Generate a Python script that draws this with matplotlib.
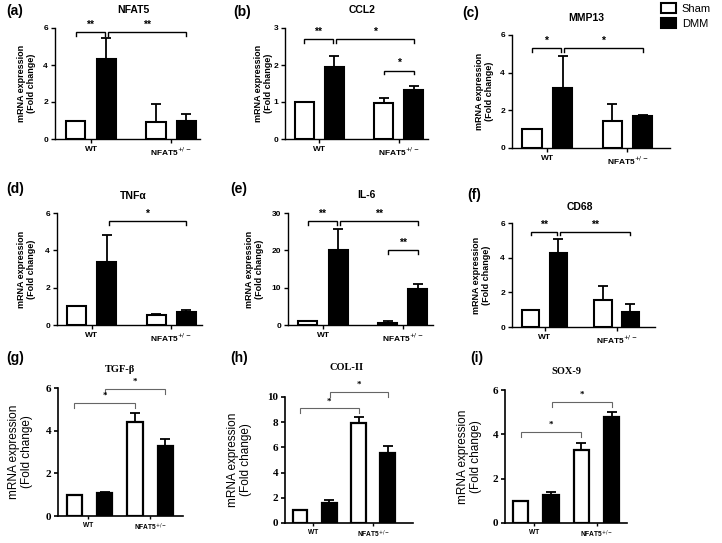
import matplotlib.pyplot as plt
from matplotlib.patches import Patch

W, H = 722, 543

groups = ["WT", "NFAT5$^{+/-}$"]

# mean fold change (WT, NFAT5+/-) and upper error
nfat5_sham, nfat5_dmm = [1.0, 0.9], [4.3, 0.95]
nfat5_sham_err, nfat5_dmm_err = [0.0, 1.0], [1.15, 0.4]

ccl2_sham, ccl2_dmm = [1.0, 0.98], [1.95, 1.33]
ccl2_sham_err, ccl2_dmm_err = [0.0, 0.13], [0.3, 0.1]

mmp13_sham, mmp13_dmm = [1.0, 1.45], [3.2, 1.7]
mmp13_sham_err, mmp13_dmm_err = [0.0, 0.9], [1.7, 0.05]

tnfa_sham, tnfa_dmm = [1.0, 0.55], [3.4, 0.7]
tnfa_sham_err, tnfa_dmm_err = [0.0, 0.05], [1.4, 0.08]

il6_sham, il6_dmm = [1.0, 0.6], [20.0, 9.7]
il6_sham_err, il6_dmm_err = [0.0, 0.4], [5.8, 1.4]

cd68_sham, cd68_dmm = [1.0, 1.55], [4.25, 0.85]
cd68_sham_err, cd68_dmm_err = [0.0, 0.8], [0.8, 0.48]

tgfb_sham, tgfb_dmm = [1.0, 4.42], [1.08, 3.3]
tgfb_sham_err, tgfb_dmm_err = [0.0, 0.42], [0.05, 0.3]

col2_sham, col2_dmm = [1.0, 7.95], [1.6, 5.55]
col2_sham_err, col2_dmm_err = [0.0, 0.5], [0.2, 0.6]

sox9_sham, sox9_dmm = [1.0, 3.3], [1.28, 4.78]
sox9_sham_err, sox9_dmm_err = [0.0, 0.3], [0.12, 0.22]

# significance brackets: (bar i, bar j, height, label); bars 0=Sham WT 1=DMM WT 2=Sham KO 3=DMM KO
nfat5_sig = [(0, 1, 5.8, "**"), (1, 3, 5.8, "**")]
ccl2_sig = [(0, 1, 2.7, "**"), (1, 3, 2.7, "*"), (2, 3, 1.85, "*")]
mmp13_sig = [(0, 1, 5.3, "*"), (1, 3, 5.3, "*")]
tnfa_sig = [(1, 3, 5.57, "*")]
il6_sig = [(0, 1, 27.9, "**"), (1, 3, 27.9, "**"), (2, 3, 20.1, "**")]
cd68_sig = [(0, 1, 5.5, "**"), (1, 3, 5.5, "**")]
tgfb_sig = [(0, 2, 5.3, "*"), (1, 3, 5.95, "*")]
col2_sig = [(0, 2, 9.1, "*"), (1, 3, 10.4, "*")]
sox9_sig = [(0, 2, 4.12, "*"), (1, 3, 5.46, "*")]

SANS = "Liberation Sans"
SERIF = "Liberation Serif"


def px_axes(fig, left, right, top, bottom):
    return fig.add_axes([left / W, 1 - bottom / H, (right - left) / W, (bottom - top) / H])


def brackets(ax, xs, sig, drop, color, lw, fs, family):
    for i, j, y, lab in sig:
        x1, x2 = xs[i], xs[j]
        if i == 1 and j == 3:
            x1 += 0.02
        elif j == 1:
            x2 -= 0.02
        ax.plot([x1, x1, x2, x2], [y - drop, y, y, y - drop], color=color, lw=lw,
                clip_on=False, solid_joinstyle="miter")
        ax.text((x1 + x2) / 2, y + drop * 0.6, lab, ha="center", va="bottom",
                fontsize=fs, fontweight="bold", family=family)


def top_panel(fig, rect, xlim, sham, dmm, sham_err, dmm_err, ymax, yticks, sig,
              title, title_xy, label, label_xy, ylabel_x):
    ax = px_axes(fig, *rect)
    off, w = 0.19, 0.24
    xs = [0 - off, 0 + off, 1 - off, 1 + off]
    vals = [sham[0], dmm[0], sham[1], dmm[1]]
    errs = [sham_err[0], dmm_err[0], sham_err[1], dmm_err[1]]
    colors = ["white", "black", "white", "black"]
    ax.errorbar(xs, vals, yerr=[[0] * 4, errs], fmt="none", ecolor="black",
                elinewidth=1.3, capsize=3.5, capthick=1.3, zorder=1)
    ax.bar(xs, vals, width=w, color=colors, edgecolor="black", linewidth=1.5, zorder=2)
    ax.set_xlim(*xlim)
    ax.set_ylim(0, ymax)
    ax.set_yticks(yticks)
    ax.set_xticks([0, 1])
    ax.set_xticklabels(groups)
    for s in ["top", "right"]:
        ax.spines[s].set_visible(False)
    for s in ["left", "bottom"]:
        ax.spines[s].set_linewidth(1.0)
    ax.tick_params(length=3, width=1.0, pad=2)
    for t in ax.get_xticklabels() + ax.get_yticklabels():
        t.set_fontsize(6)
        t.set_fontweight("bold")
        t.set_family(SANS)
    ax.set_ylabel("mRNA expression\n(Fold change)", fontsize=6.5, fontweight="bold",
                  family=SANS, linespacing=1.1)
    l, r = rect[0], rect[1]
    ax.yaxis.set_label_coords((ylabel_x - l) / (r - l), 0.5)
    brackets(ax, xs, sig, ymax * 0.035, "black", 1.0, 7.5, SANS)
    fig.text(title_xy[0] / W, 1 - title_xy[1] / H, title, ha="center", va="center",
             fontsize=7.5, fontweight="bold", family=SANS)
    fig.text(label_xy[0] / W, 1 - label_xy[1] / H, label, ha="left", va="center",
             fontsize=10, fontweight="bold", family=SANS)
    return ax


def bottom_panel(fig, rect, xlim, sham, dmm, sham_err, dmm_err, ymax, yticks, sig,
                 title, title_xy, label, label_xy, ylabel_x):
    ax = px_axes(fig, *rect)
    xs = [0, 1, 2, 3]
    vals = [sham[0], dmm[0], sham[1], dmm[1]]
    errs = [sham_err[0], dmm_err[0], sham_err[1], dmm_err[1]]
    colors = ["white", "black", "white", "black"]
    ax.errorbar(xs, vals, yerr=[[0] * 4, errs], fmt="none", ecolor="black",
                elinewidth=1.3, capsize=3.5, capthick=1.3, zorder=1)
    ax.bar(xs, vals, width=0.5, color=colors, edgecolor="black", linewidth=1.6, zorder=2)
    ax.set_xlim(*xlim)
    ax.set_ylim(0, ymax)
    ax.set_yticks(yticks)
    ax.set_xticks([0.45, 2.5])
    ax.set_xticklabels(groups)
    for s in ["top", "right"]:
        ax.spines[s].set_visible(False)
    for s in ["left", "bottom"]:
        ax.spines[s].set_linewidth(1.2)
    ax.tick_params(axis="y", length=3, width=1.2, pad=2)
    ax.tick_params(axis="x", length=2, width=1.0, pad=2)
    for t in ax.get_yticklabels():
        t.set_fontsize(8)
        t.set_fontweight("bold")
        t.set_family(SERIF)
    for t in ax.get_xticklabels():
        t.set_fontsize(4.8)
        t.set_fontweight("bold")
        t.set_family(SANS)
    ax.set_ylabel("mRNA expression\n(Fold change)", fontsize=8.5, family=SANS,
                  linespacing=1.15)
    l, r = rect[0], rect[1]
    ax.yaxis.set_label_coords((ylabel_x - l) / (r - l), 0.5)
    brackets(ax, xs, sig, ymax * 0.04, "#666666", 0.8, 6.5, SERIF)
    fig.text(title_xy[0] / W, 1 - title_xy[1] / H, title, ha="center", va="center",
             fontsize=7.5, fontweight="bold", family=SERIF)
    fig.text(label_xy[0] / W, 1 - label_xy[1] / H, label, ha="left", va="center",
             fontsize=10, fontweight="bold", family=SANS)
    return ax


fig = plt.figure(figsize=(W / 100, H / 100), dpi=100)

top_panel(fig, (55, 200, 28, 139), (-0.45, 1.36), nfat5_sham, nfat5_dmm,
          nfat5_sham_err, nfat5_dmm_err, 6, [0, 2, 4, 6], nfat5_sig,
          "NFAT5", (133, 10), "(a)", (6, 11), 36)
top_panel(fig, (285, 428, 28, 139), (-0.43, 1.37), ccl2_sham, ccl2_dmm,
          ccl2_sham_err, ccl2_dmm_err, 3, [0, 1, 2, 3], ccl2_sig,
          "CCL2", (362, 10), "(b)", (233, 12), 273)
top_panel(fig, (512, 670, 35, 148), (-0.44, 1.53), mmp13_sham, mmp13_dmm,
          mmp13_sham_err, mmp13_dmm_err, 6, [0, 2, 4, 6], mmp13_sig,
          "MMP13", (586, 18), "(c)", (462, 13), 494)
top_panel(fig, (57, 202, 213, 325), (-0.44, 1.39), tnfa_sham, tnfa_dmm,
          tnfa_sham_err, tnfa_dmm_err, 6, [0, 2, 4, 6], tnfa_sig,
          "TNFα", (133, 196), "(d)", (6, 189), 36)
top_panel(fig, (288, 433, 213, 325), (-0.44, 1.38), il6_sham, il6_dmm,
          il6_sham_err, il6_dmm_err, 30, [0, 10, 20, 30], il6_sig,
          "IL-6", (366, 195), "(e)", (230, 189), 264)
top_panel(fig, (512, 655, 223, 327), (-0.45, 1.53), cd68_sham, cd68_dmm,
          cd68_sham_err, cd68_dmm_err, 6, [0, 2, 4, 6], cd68_sig,
          "CD68", (580, 207), "(f)", (467, 195), 491)

bottom_panel(fig, (58, 183, 388, 516), (-0.54, 3.58), tgfb_sham, tgfb_dmm,
             tgfb_sham_err, tgfb_dmm_err, 6, [0, 2, 4, 6], tgfb_sig,
             "TGF-β", (120, 369), "(g)", (6, 358), 33)
bottom_panel(fig, (285, 413, 397, 523), (-0.51, 3.86), col2_sham, col2_dmm,
             col2_sham_err, col2_dmm_err, 10, [0, 2, 4, 6, 8, 10], col2_sig,
             "COL-II", (347, 368), "(h)", (230, 358), 252)
bottom_panel(fig, (505, 627, 390, 523), (-0.51, 3.5), sox9_sham, sox9_dmm,
             sox9_sham_err, sox9_dmm_err, 6, [0, 2, 4, 6], sox9_sig,
             "SOX-9", (566, 372), "(i)", (470, 358), 482)

handles = [Patch(facecolor="white", edgecolor="black", linewidth=1.5),
           Patch(facecolor="black", edgecolor="black", linewidth=1.5)]
fig.legend(handles, ["Sham", "DMM"], loc="upper left", bbox_to_anchor=(659 / W, 1 - 1 / H),
           frameon=False, handlelength=1.35, handleheight=1.0, borderpad=0.2,
           borderaxespad=0, labelspacing=0.35, handletextpad=0.5,
           prop={"family": SANS, "size": 8})

fig.savefig("out.png", dpi=100)
